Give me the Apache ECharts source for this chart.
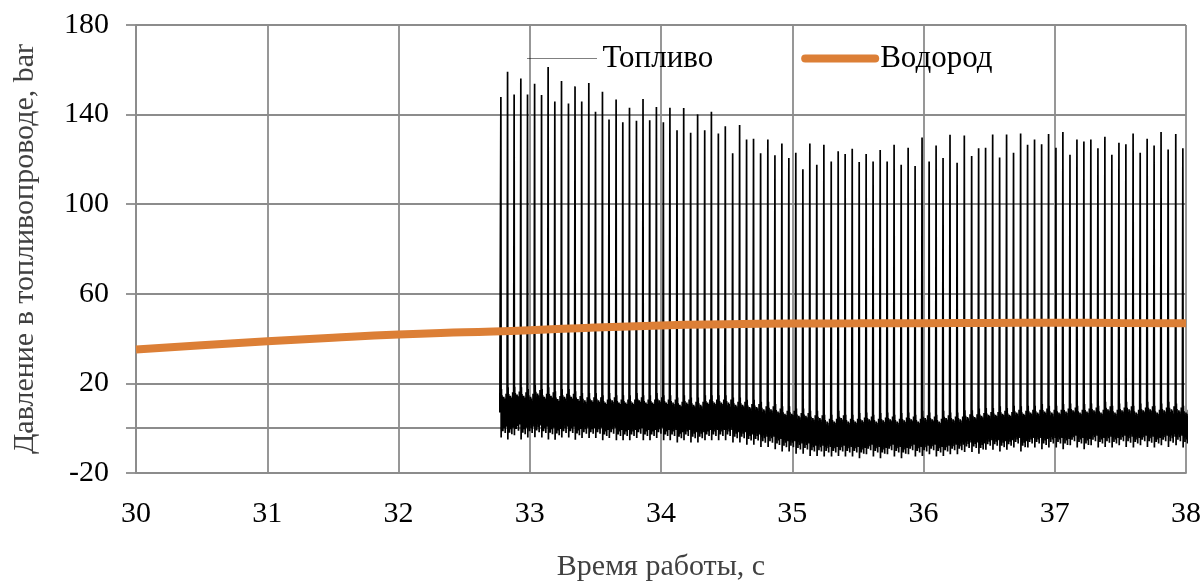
<!DOCTYPE html>
<html>
<head>
<meta charset="utf-8">
<script src="https://cdn.jsdelivr.net/npm/echarts@6/dist/echarts.min.js"></script>
<style>
html,body{margin:0;padding:0;background:#fff;}
#chart{width:1204px;height:587px;}
</style>
</head>
<body>
<div id="chart"></div>
<script>
// ---- data ----
const xTicks = [30, 31, 32, 33, 34, 35, 36, 37, 38];
const yTickLabels = [-20, 20, 60, 100, 140, 180];
const yGridValues = [-20, 0, 20, 60, 100, 140, 180];

// Водород (hydrogen) pressure, bar
const h2Time = [30, 30.5, 31, 31.5, 32, 32.5, 33, 33.5, 34, 34.5, 35, 35.5, 36, 36.5, 37, 37.5, 38];
const h2Value = [35.1, 37.0, 38.8, 40.4, 41.8, 42.8, 43.7, 45.0, 45.9, 46.4, 46.7, 46.8, 46.9, 47.0, 47.1, 47.0, 46.8];

// Топливо (fuel): injection spikes (time, s / peak, bar)
const spikeTimes = [
  32.780, 32.831, 32.881, 32.932, 32.983, 33.037, 33.090, 33.140, 33.191, 33.242,
  33.295, 33.345, 33.396, 33.450, 33.501, 33.554, 33.604, 33.658, 33.709, 33.760,
  33.813, 33.863, 33.914, 33.965, 34.018, 34.068, 34.122, 34.173, 34.226, 34.279,
  34.333, 34.384, 34.437, 34.490, 34.546, 34.599, 34.652, 34.705, 34.759, 34.814,
  34.868, 34.921, 34.974, 35.027, 35.081, 35.134, 35.187, 35.241, 35.297, 35.350,
  35.403, 35.457, 35.510, 35.563, 35.616, 35.670, 35.723, 35.776, 35.830, 35.883,
  35.936, 35.989, 36.043, 36.096, 36.149, 36.202, 36.256, 36.311, 36.367, 36.420,
  36.473, 36.527, 36.580, 36.633, 36.686, 36.740, 36.793, 36.846, 36.900, 36.953,
  37.009, 37.062, 37.116, 37.169, 37.222, 37.275, 37.329, 37.382, 37.435, 37.489,
  37.542, 37.597, 37.651, 37.704, 37.757, 37.810, 37.864, 37.922, 37.976
];
const spikePeaks = [
  147.9, 159.1, 149.0, 156.1, 149.0, 153.8, 148.7, 161.2, 145.8, 155.0,
  144.9, 152.6, 145.8, 154.1, 141.3, 150.2, 137.8, 146.7, 136.6, 143.1,
  137.2, 147.0, 137.5, 143.4, 136.6, 143.1, 133.0, 142.9, 131.9, 140.1,
  133.0, 141.3, 131.6, 134.8, 122.7, 135.4, 128.9, 129.2, 122.7, 128.9,
  121.8, 127.1, 120.6, 123.0, 115.6, 127.1, 117.6, 126.5, 119.1, 123.6,
  122.4, 124.7, 118.8, 122.4, 119.1, 124.2, 119.1, 126.5, 117.6, 125.2,
  117.0, 129.8, 119.1, 126.2, 120.6, 131.0, 118.5, 130.7, 121.5, 125.0,
  125.2, 131.1, 120.9, 131.1, 123.0, 131.6, 126.5, 128.9, 126.8, 131.3,
  125.2, 132.2, 122.1, 128.9, 128.0, 128.9, 125.0, 130.1, 122.1, 127.4,
  126.8, 131.6, 123.0, 129.2, 126.2, 132.2, 124.4, 131.3, 125.0
];
// level (middle) and half-width of the noisy band after each spike, bar
const bandMid = [
  7, 7, 8, 7, 7, 8, 7, 7, 6, 7, 7, 6,
  6, 6, 6, 5, 6, 5,
  5, 5, 6, 5, 5, 6, 5, 5, 4, 5, 4, 4,
  5, 5, 5, 5, 4, 4,
  3, 3, 2, 2, 1, 0, 0, -1, -1, -2, -2,
  -3, -3, -2, -3, -3, -3, -2, -3, -3, -2, -3, -3, -2, -3, -2, -2, -3, -2, -2, -2,
  -1, -1, -1, 0, 0, 0, 0, 1, 0, 1, 1, 1, 1, 1, 1, 2, 1, 1, 2, 1, 2, 1, 2, 2, 1, 2, 2, 1, 2, 2, 2, 1
];
const bandHalf = [
  7, 7.5, 7, 7.5, 7, 7.5, 7, 7.5, 7, 7, 7, 7,
  6.5, 6.5, 6.5, 6.5, 6.5, 6.5,
  6.5, 6.5, 6.5, 6.5, 6.5, 6.5, 6.5, 6.5, 6.5, 6.5, 6.5, 6.5,
  6.5, 6.5, 6.5, 6.5, 6.5, 6.5,
  6.5, 6.5, 6.5, 6.5, 6.5, 6.5, 6.5, 6.5, 6.5, 6.5, 6.5,
  6, 6, 6.5, 6, 6, 6.5, 6, 6, 6.5, 6, 6, 6.5, 6, 6, 6.5, 6, 6, 6.5, 6, 6,
  6, 6, 6.5, 6, 6, 6.5, 6, 6, 6.5, 6, 6, 6.5, 6, 6, 6.5, 6, 6, 6.5, 6, 6, 6.5, 6, 6, 6.5, 6, 6, 6.5, 6, 6, 6.5, 6, 6
];
// relative shape of the ringing between two injections
const ringShape = [-1.6, 1.5, -0.9, 1.1, -0.5, 0.8, -1.2, 0.6, -0.8, 1.0, -0.4, 0.9,
                   -1.0, 0.7, -1.3, 0.5, -0.7, 1.2, -0.6, 0.8, -0.9, 0.6];

// ---- build series points ----
const fuel = [[32.772, bandMid[0]]];
for (let i = 0; i < spikeTimes.length; i++) {
  const t = spikeTimes[i];
  const next = i + 1 < spikeTimes.length ? spikeTimes[i + 1] : 38.03;
  const period = next - t;
  fuel.push([t - 0.004, bandMid[i]]);
  fuel.push([t, spikePeaks[i]]);
  for (let k = 0; k < ringShape.length; k++) {
    fuel.push([t + period * (k + 1) / (ringShape.length + 1), bandMid[i] + ringShape[k] * bandHalf[i]]);
  }
}
const hydrogen = h2Time.map((t, i) => [t, h2Value[i]]);

const FONT = 'Liberation Serif';
const GRID = '#8c8c8c';
const chart = echarts.init(document.getElementById('chart'), null, {renderer: 'canvas'});
chart.setOption({
  animation: false,
  backgroundColor: '#fff',
  grid: {left: 136, right: 17, top: 25, bottom: 112, containLabel: false},
  legend: {
    left: 522, top: 38,
    itemWidth: 70, itemHeight: 14, itemGap: 88,
    textStyle: {fontFamily: FONT, fontSize: 31, color: '#000'},
    data: [
      {name: 'Топливо', lineStyle: {color: '#000', width: 1, type: 'dotted'},
        itemStyle: {color: 'transparent', borderWidth: 0, opacity: 0}},
      {name: 'Водород', lineStyle: {color: '#DC7F36', width: 8, cap: 'round'},
        itemStyle: {color: 'transparent', borderWidth: 0, opacity: 0}}
    ]
  },
  xAxis: {
    type: 'value', min: 30, max: 38, interval: 1,
    name: 'Время работы, с', nameLocation: 'middle', nameGap: 79,
    nameTextStyle: {fontFamily: FONT, fontSize: 30, color: '#404040'},
    axisLine: {show: true, onZero: false, lineStyle: {color: GRID, width: 1.8}},
    axisTick: {show: false},
    axisLabel: {fontFamily: FONT, fontSize: 30, color: '#000', margin: 26,
      formatter: v => xTicks.includes(v) ? String(v) : ''},
    splitLine: {show: true, lineStyle: {color: GRID, width: 1.8}}
  },
  yAxis: {
    type: 'value', min: -20, max: 180, interval: 40,
    name: 'Давление в топливопроводе, bar', nameLocation: 'middle', nameGap: 96,
    nameTextStyle: {fontFamily: FONT, fontSize: 30, color: '#404040'},
    axisLine: {show: true, lineStyle: {color: GRID, width: 1.8}},
    axisTick: {show: true, length: 10, lineStyle: {color: GRID, width: 1.8}, customValues: yGridValues},
    axisLabel: {fontFamily: FONT, fontSize: 30, color: '#000', margin: 27,
      formatter: v => yTickLabels.includes(v) ? String(v) : ''},
    splitLine: {show: true, lineStyle: {color: GRID, width: 1.8}}
  },
  series: [
    {
      name: 'zero', type: 'line', data: [], silent: true, z: 1,
      markLine: {silent: true, z: 1, symbol: 'none', label: {show: false},
        lineStyle: {color: GRID, width: 1.8, type: 'solid'}, data: [{yAxis: 0}]}
    },
    {
      name: 'Топливо', type: 'line', data: fuel, showSymbol: false, symbol: 'none',
      lineStyle: {color: '#000', width: 1.7}, itemStyle: {color: '#000'}, z: 3
    },
    {
      name: 'Водород', type: 'line', data: hydrogen, showSymbol: false, symbol: 'none', smooth: true,
      lineStyle: {color: '#DC7F36', width: 8}, itemStyle: {color: '#DC7F36'}, z: 4
    }
  ]
});
</script>
</body>
</html>
